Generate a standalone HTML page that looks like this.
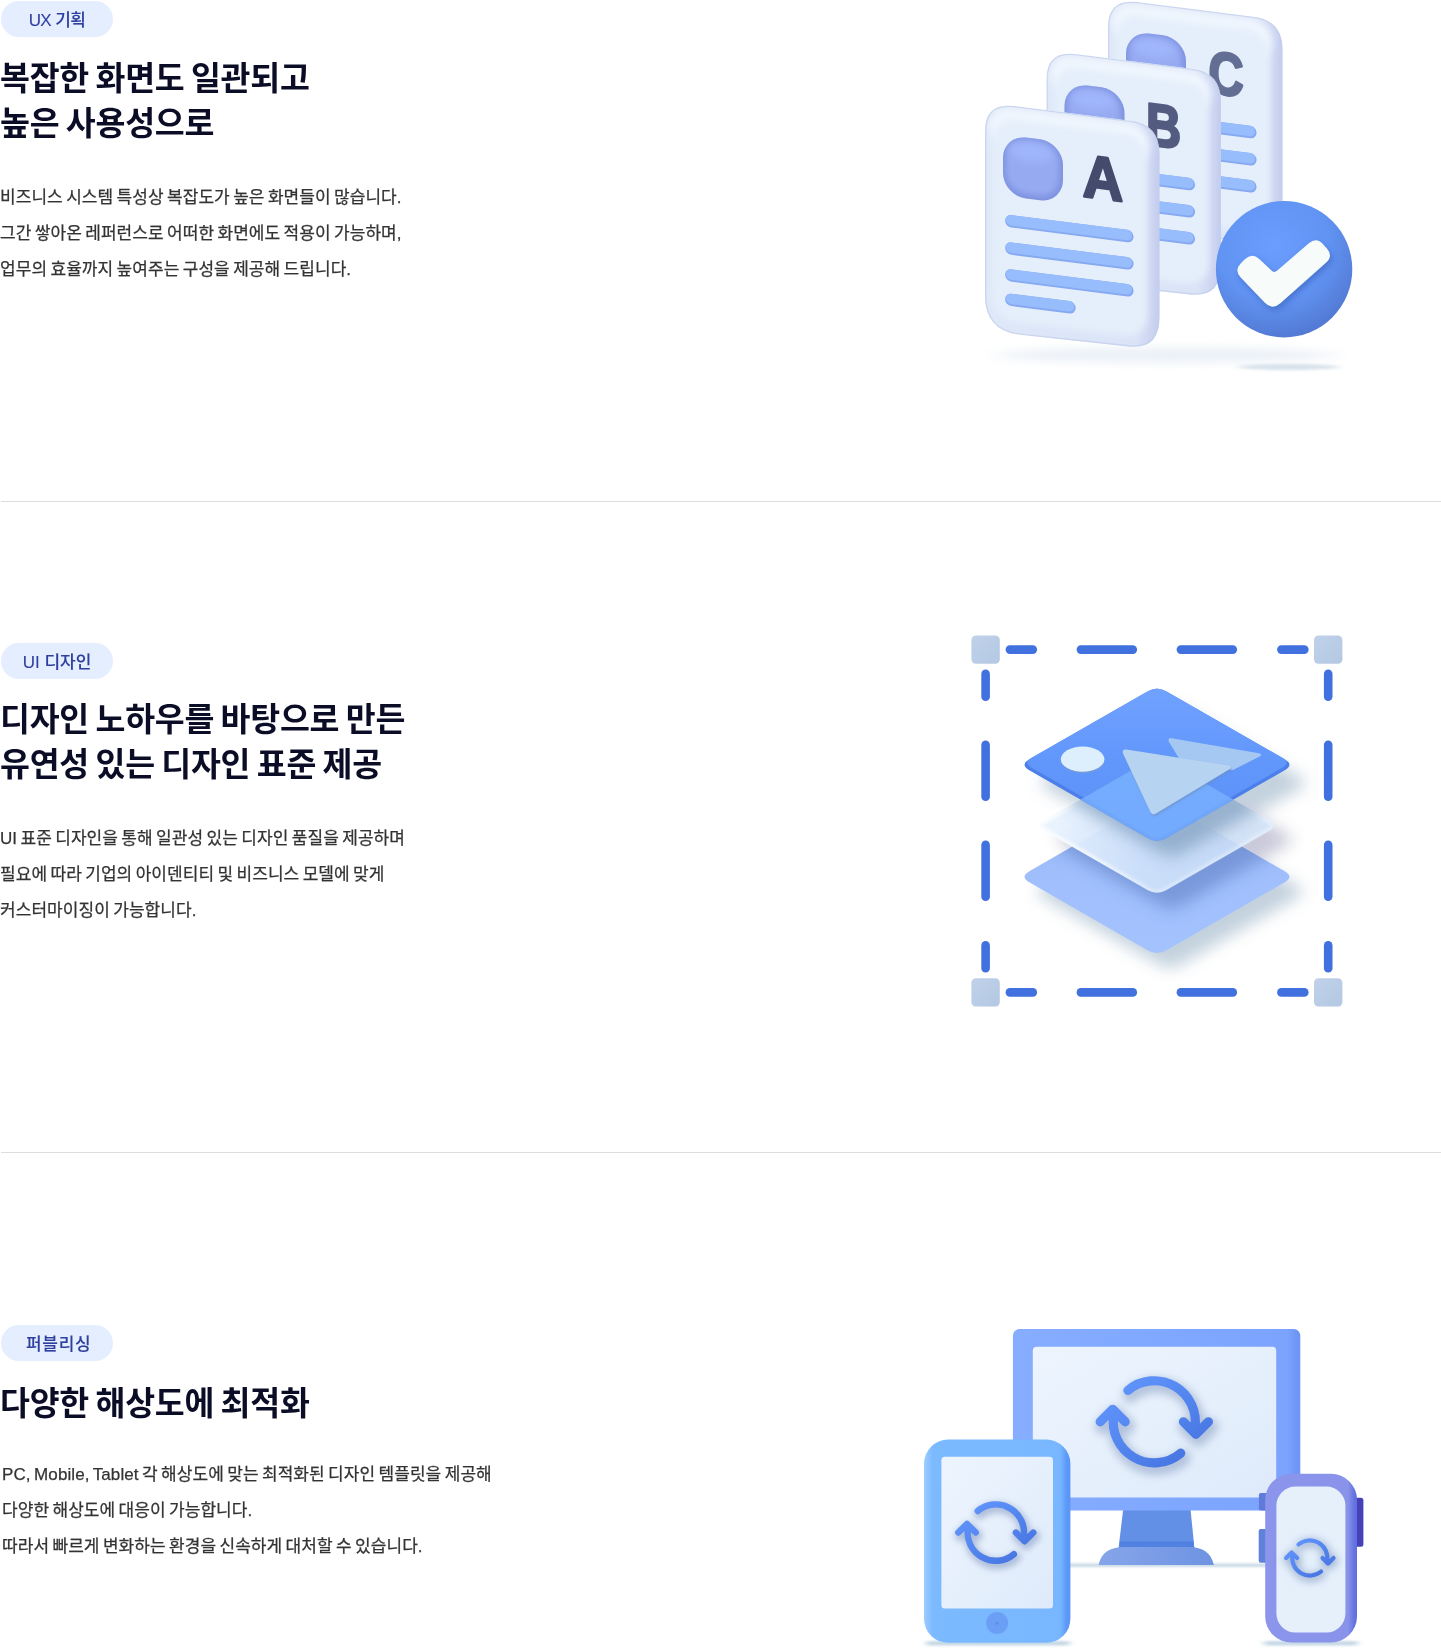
<!DOCTYPE html>
<html lang="ko">
<head>
<meta charset="utf-8">
<title>UX 기획 · UI 디자인 · 퍼블리싱</title>
<style>
*{box-sizing:border-box;margin:0;padding:0}
html,body{width:1441px;height:1651px;background:#fff;overflow:hidden}
body{position:relative;font-family:"Liberation Sans","Noto Sans CJK KR",sans-serif;color:#0b0c26}
.line{position:absolute;left:1px;width:1440px;height:1px;background:#ddd}
.tag{position:absolute;left:1px;width:112px;height:36px;border-radius:18px;background:#e4eeff;color:#2f3f9f;font-size:17px;line-height:39px;font-weight:500;text-align:center;letter-spacing:0;white-space:nowrap;-webkit-text-stroke:0.1px #2f3f9f}
h2,p,.tag{will-change:transform}
h2{position:absolute;left:0;font-size:32.5px;line-height:45px;font-weight:700;letter-spacing:-0.25px;word-spacing:-2.25px;color:#0b0c26;white-space:nowrap}
p{position:absolute;left:0;font-size:17px;line-height:36px;letter-spacing:0.05px;word-spacing:-1.4px;color:#333;white-space:nowrap;-webkit-text-stroke:0.25px #333}
svg.art{position:absolute;left:0;top:0;width:1441px;height:1651px;overflow:hidden}
svg.art text{font-family:"Liberation Sans","DejaVu Sans",sans-serif;font-weight:700}
</style>
</head>
<body>
<main>
<section>
<div class="tag" style="top:1px;letter-spacing:-0.6px">UX 기획</div>
<h2 style="top:57px">복잡한 화면도 일관되고<br>높은 사용성으로</h2>
<p style="top:180px">비즈니스 시스템 특성상 복잡도가 높은 화면들이 많습니다.<br>그간 쌓아온 레퍼런스로 어떠한 화면에도 적용이 가능하며,<br>업무의 효율까지 높여주는 구성을 제공해 드립니다.</p>
<div class="line" style="top:501px"></div>
</section>
<section>
<div class="tag" style="top:643px">UI 디자인</div>
<h2 style="top:697.5px">디자인 노하우를 바탕으로 만든<br>유연성 있는 디자인 표준 제공</h2>
<p style="top:821px">UI 표준 디자인을 통해 일관성 있는 디자인 품질을 제공하며<br>필요에 따라 기업의 아이덴티티 및 비즈니스 모델에 맞게<br>커스터마이징이 가능합니다.</p>
<div class="line" style="top:1152px"></div>
</section>
<section>
<div class="tag" style="top:1325px;letter-spacing:0.7px;text-indent:3.4px">퍼블리싱</div>
<h2 style="top:1382px">다양한 해상도에 최적화</h2>
<p style="top:1457px;left:2px"><span style="letter-spacing:0.1px">PC, Mobile, Tablet</span> 각 해상도에 맞는 최적화된 디자인 템플릿을 제공해<br>다양한 해상도에 대응이 가능합니다.<br>따라서 빠르게 변화하는 환경을 신속하게 대처할 수 있습니다.</p>
</section>
</main>
<svg class="art" viewBox="0 0 1441 1651" width="1441" height="1651">
<defs>
<clipPath id="sqc"><rect x="18" y="30" width="60" height="61" rx="23"/></clipPath>
<linearGradient id="docEdge" x1="0" y1="0" x2="1" y2="0"><stop offset="0" stop-color="#dfe8f8"/><stop offset="0.86" stop-color="#dbe4f7"/><stop offset="0.965" stop-color="#cad3f0"/><stop offset="1" stop-color="#c3cced"/></linearGradient>
<linearGradient id="sq" x1="0" y1="0" x2="0.3" y2="1"><stop offset="0" stop-color="#9db3f9"/><stop offset="0.35" stop-color="#96a9f0"/><stop offset="1" stop-color="#91a1ea"/></linearGradient>
<linearGradient id="ln" gradientUnits="userSpaceOnUse" x1="0" y1="0" x2="0" y2="12.4" spreadMethod="repeat"><stop offset="0" stop-color="#96bcfc"/><stop offset="1" stop-color="#96bcfc"/></linearGradient>
<radialGradient id="ck" cx="0.42" cy="0.32" r="0.75"><stop offset="0" stop-color="#6a9dfd"/><stop offset="0.55" stop-color="#6193f3"/><stop offset="1" stop-color="#4f74cc"/></radialGradient>
<filter id="b1" x="-20%" y="-20%" width="140%" height="140%"><feGaussianBlur stdDeviation="0.8"/></filter>
<filter id="b2" x="-20%" y="-20%" width="140%" height="140%"><feGaussianBlur stdDeviation="2"/></filter>
<filter id="b3" x="-50%" y="-50%" width="200%" height="200%"><feGaussianBlur stdDeviation="3"/></filter>
<filter id="b4" x="-60%" y="-60%" width="220%" height="220%"><feGaussianBlur stdDeviation="4"/></filter>
<filter id="b6" x="-30%" y="-30%" width="160%" height="160%"><feGaussianBlur stdDeviation="6"/></filter>
<filter id="b8" x="-40%" y="-40%" width="180%" height="180%"><feGaussianBlur stdDeviation="8"/></filter>
<filter id="b12" x="-50%" y="-50%" width="200%" height="200%"><feGaussianBlur stdDeviation="12"/></filter>
<filter id="bs" x="-20%" y="-300%" width="140%" height="700%"><feGaussianBlur stdDeviation="3 1.2"/></filter>
<filter id="bs2" x="-30%" y="-300%" width="160%" height="700%"><feGaussianBlur stdDeviation="5 1.6"/></filter>
<filter id="bw" x="-20%" y="-300%" width="140%" height="700%"><feGaussianBlur stdDeviation="14 4"/></filter>
<clipPath id="dc3"><path d="M29 0 L145.4 0 Q174.4 0 174.4 29 L174.4 193.2 Q174.4 226.2 141.4 225.89999999999998 L35 228 Q0 228 0 193 L0 29 Q0 0 29 0 Z"/></clipPath>
<clipPath id="dc2"><path d="M29 0 L145.4 0 Q174.4 0 174.4 29 L174.4 193.2 Q174.4 226.2 141.4 225.89999999999998 L35 228 Q0 228 0 193 L0 29 Q0 0 29 0 Z"/></clipPath>
<clipPath id="dc1"><path d="M29 0 L145.4 0 Q174.4 0 174.4 29 L174.4 193.2 Q174.4 226.2 141.4 225.89999999999998 L35 228 Q0 228 0 193 L0 29 Q0 0 29 0 Z"/></clipPath>
<linearGradient id="hd" x1="0" y1="0" x2="1" y2="1"><stop offset="0" stop-color="#c0d2ea"/><stop offset="1" stop-color="#b4c8e2"/></linearGradient>
<clipPath id="cBot"><path d="M1147.5 803.3 Q1157.0 797.8 1166.5 803.3 L1284.7 871.3 Q1294.2 876.8 1284.7 882.3 L1166.5 950.3 Q1157.0 955.8 1147.5 950.3 L1029.3 882.3 Q1019.8 876.8 1029.3 871.3 Z"/></clipPath><clipPath id="cMid"><path d="M1147.5 761.1 Q1157.0 755.6 1166.5 761.1 L1269.1 820.1 Q1278.6 825.6 1269.1 831.1 L1166.5 890.1 Q1157.0 895.6 1147.5 890.1 L1044.9 831.1 Q1035.4 825.6 1044.9 820.1 Z"/></clipPath><clipPath id="cTop"><path d="M1147.5 691.5 Q1157.0 686.0 1166.5 691.5 L1284.7 759.3 Q1294.2 764.8 1284.7 770.3 L1166.5 838.1 Q1157.0 843.6 1147.5 838.1 L1029.3 770.3 Q1019.8 764.8 1029.3 759.3 Z"/></clipPath>
<linearGradient id="gTop" x1="0" y1="0" x2="0" y2="1"><stop offset="0" stop-color="#70a2ff"/><stop offset="0.5" stop-color="#6196fb"/><stop offset="1" stop-color="#5c90f6"/></linearGradient>
<linearGradient id="gBot" x1="0" y1="0" x2="0" y2="1"><stop offset="0" stop-color="#9ab8f6"/><stop offset="0.55" stop-color="#a0bffc"/><stop offset="1" stop-color="#a3c2fe"/></linearGradient>
<linearGradient id="gRim" gradientUnits="userSpaceOnUse" x1="1035" y1="0" x2="1280" y2="0"><stop offset="0" stop-color="#fff" stop-opacity="0.75"/><stop offset="0.5" stop-color="#fff" stop-opacity="0.25"/><stop offset="1" stop-color="#fff" stop-opacity="0.3"/></linearGradient>
<linearGradient id="gMid" x1="0" y1="0" x2="1" y2="0"><stop offset="0" stop-color="#eaf4fe" stop-opacity="0.95"/><stop offset="0.45" stop-color="#d3e6fd" stop-opacity="0.9"/><stop offset="1" stop-color="#d6e8fc" stop-opacity="0.8"/></linearGradient>
<linearGradient id="gMon" x1="0" y1="0" x2="1" y2="0"><stop offset="0" stop-color="#86adff"/><stop offset="0.5" stop-color="#80a8ff"/><stop offset="0.955" stop-color="#7ca4fe"/><stop offset="0.985" stop-color="#6e97f5"/><stop offset="1" stop-color="#6c95f4"/></linearGradient>
<linearGradient id="gScr" x1="0" y1="0" x2="1" y2="1"><stop offset="0" stop-color="#edf4fe"/><stop offset="0.5" stop-color="#e6f0fc"/><stop offset="1" stop-color="#deeafb"/></linearGradient>
<linearGradient id="gTab" x1="0" y1="0" x2="1" y2="0"><stop offset="0" stop-color="#9dccff"/><stop offset="0.06" stop-color="#7cbaff"/><stop offset="0.93" stop-color="#78b7ff"/><stop offset="0.975" stop-color="#5b98f8"/><stop offset="1" stop-color="#5a96f6"/></linearGradient>
<linearGradient id="gWat" x1="0" y1="0" x2="1" y2="0"><stop offset="0" stop-color="#8c95ec"/><stop offset="0.9" stop-color="#8a93ea"/><stop offset="0.97" stop-color="#6473df"/><stop offset="1" stop-color="#5f6edc"/></linearGradient>
<linearGradient id="gIc" x1="0" y1="0" x2="1" y2="1"><stop offset="0" stop-color="#6399ff"/><stop offset="1" stop-color="#4471de"/></linearGradient>
<linearGradient id="gBase" x1="0" y1="0" x2="1" y2="0"><stop offset="0" stop-color="#86a5ea"/><stop offset="1" stop-color="#6f93e2"/></linearGradient>
</defs>
<ellipse cx="1165" cy="355" rx="170" ry="8" fill="#ecf1f7" filter="url(#bw)"/>
<ellipse cx="1289" cy="367" rx="50" ry="3" fill="#d6e1ea" filter="url(#bs2)"/>
<g transform="translate(1108,-1.6) skewY(7.2)">
<path d="M29 0 L145.4 0 Q174.4 0 174.4 29 L174.4 193.2 Q174.4 226.2 141.4 225.89999999999998 L35 228 Q0 228 0 193 L0 29 Q0 0 29 0 Z" fill="url(#docEdge)"/>
<g clip-path="url(#dc3)">
<rect x="4" y="2" width="160.4" height="40" rx="24" fill="#f1f7fe" filter="url(#b4)"/>
<rect x="8" y="13" width="154.4" height="202" rx="22" fill="#e5effb" filter="url(#b3)"/>
<rect x="18" y="30" width="60" height="61" rx="23" fill="#7d90de"/>
<g clip-path="url(#sqc)"><rect x="20.5" y="32" width="54" height="54.5" rx="20" fill="#96aaf2" filter="url(#b3)"/><ellipse cx="46" cy="44" rx="22" ry="9" fill="#a0b6fb" filter="url(#b4)"/></g>
<line x1="26.3" y1="115.6" x2="142.4" y2="115.6" stroke="#86a9f1" stroke-width="12.4" stroke-linecap="round"/>
<line x1="26.0" y1="114.69999999999999" x2="141.8" y2="114.69999999999999" stroke="#97bdfd" stroke-width="10.4" stroke-linecap="round"/>
<line x1="26.3" y1="142.9" x2="142.4" y2="142.9" stroke="#86a9f1" stroke-width="12.4" stroke-linecap="round"/>
<line x1="26.0" y1="142.0" x2="141.8" y2="142.0" stroke="#97bdfd" stroke-width="10.4" stroke-linecap="round"/>
<line x1="26.3" y1="169.8" x2="142.4" y2="169.8" stroke="#86a9f1" stroke-width="12.4" stroke-linecap="round"/>
<line x1="26.0" y1="168.9" x2="141.8" y2="168.9" stroke="#97bdfd" stroke-width="10.4" stroke-linecap="round"/>
<line x1="26.3" y1="194.2" x2="84.5" y2="194.2" stroke="#86a9f1" stroke-width="12.4" stroke-linecap="round"/>
<line x1="26.0" y1="193.29999999999998" x2="83.9" y2="193.29999999999998" stroke="#97bdfd" stroke-width="10.4" stroke-linecap="round"/>
<text transform="translate(118,81.5) scale(0.81,1)" x="0" y="0" font-size="60" text-anchor="middle" fill="#636e94" stroke="#636e94" stroke-width="2.6" stroke-linejoin="round">C</text>
<path d="M29 0 L145.4 0 Q174.4 0 174.4 29 L174.4 193.2 Q174.4 226.2 141.4 225.89999999999998 L35 228 Q0 228 0 193 L0 29 Q0 0 29 0 Z" fill="none" stroke="#c3cfeb" stroke-opacity="0.75" stroke-width="2.6"/>
</g></g>
<g transform="translate(1046.5,50.4) skewY(7.2)">
<path d="M29 0 L145.4 0 Q174.4 0 174.4 29 L174.4 193.2 Q174.4 226.2 141.4 225.89999999999998 L35 228 Q0 228 0 193 L0 29 Q0 0 29 0 Z" fill="url(#docEdge)"/>
<g clip-path="url(#dc2)">
<rect x="4" y="2" width="160.4" height="40" rx="24" fill="#f1f7fe" filter="url(#b4)"/>
<rect x="8" y="13" width="154.4" height="202" rx="22" fill="#e5effb" filter="url(#b3)"/>
<rect x="18" y="30" width="60" height="61" rx="23" fill="#7d90de"/>
<g clip-path="url(#sqc)"><rect x="20.5" y="32" width="54" height="54.5" rx="20" fill="#96aaf2" filter="url(#b3)"/><ellipse cx="46" cy="44" rx="22" ry="9" fill="#a0b6fb" filter="url(#b4)"/></g>
<line x1="26.3" y1="115.6" x2="142.4" y2="115.6" stroke="#86a9f1" stroke-width="12.4" stroke-linecap="round"/>
<line x1="26.0" y1="114.69999999999999" x2="141.8" y2="114.69999999999999" stroke="#97bdfd" stroke-width="10.4" stroke-linecap="round"/>
<line x1="26.3" y1="142.9" x2="142.4" y2="142.9" stroke="#86a9f1" stroke-width="12.4" stroke-linecap="round"/>
<line x1="26.0" y1="142.0" x2="141.8" y2="142.0" stroke="#97bdfd" stroke-width="10.4" stroke-linecap="round"/>
<line x1="26.3" y1="169.8" x2="142.4" y2="169.8" stroke="#86a9f1" stroke-width="12.4" stroke-linecap="round"/>
<line x1="26.0" y1="168.9" x2="141.8" y2="168.9" stroke="#97bdfd" stroke-width="10.4" stroke-linecap="round"/>
<line x1="26.3" y1="194.2" x2="84.5" y2="194.2" stroke="#86a9f1" stroke-width="12.4" stroke-linecap="round"/>
<line x1="26.0" y1="193.29999999999998" x2="83.9" y2="193.29999999999998" stroke="#97bdfd" stroke-width="10.4" stroke-linecap="round"/>
<text transform="translate(117,81.5) scale(0.81,1)" x="0" y="0" font-size="60" text-anchor="middle" fill="#535c80" stroke="#535c80" stroke-width="2.6" stroke-linejoin="round">B</text>
<path d="M29 0 L145.4 0 Q174.4 0 174.4 29 L174.4 193.2 Q174.4 226.2 141.4 225.89999999999998 L35 228 Q0 228 0 193 L0 29 Q0 0 29 0 Z" fill="none" stroke="#c3cfeb" stroke-opacity="0.75" stroke-width="2.6"/>
</g></g>
<g transform="translate(985,102.4) skewY(7.2)">
<path d="M29 0 L145.4 0 Q174.4 0 174.4 29 L174.4 193.2 Q174.4 226.2 141.4 225.89999999999998 L35 228 Q0 228 0 193 L0 29 Q0 0 29 0 Z" fill="url(#docEdge)"/>
<g clip-path="url(#dc1)">
<rect x="4" y="2" width="160.4" height="40" rx="24" fill="#f1f7fe" filter="url(#b4)"/>
<rect x="8" y="13" width="154.4" height="202" rx="22" fill="#e5effb" filter="url(#b3)"/>
<rect x="18" y="30" width="60" height="61" rx="23" fill="#7d90de"/>
<g clip-path="url(#sqc)"><rect x="20.5" y="32" width="54" height="54.5" rx="20" fill="#96aaf2" filter="url(#b3)"/><ellipse cx="46" cy="44" rx="22" ry="9" fill="#a0b6fb" filter="url(#b4)"/></g>
<line x1="26.3" y1="115.6" x2="142.4" y2="115.6" stroke="#86a9f1" stroke-width="12.4" stroke-linecap="round"/>
<line x1="26.0" y1="114.69999999999999" x2="141.8" y2="114.69999999999999" stroke="#97bdfd" stroke-width="10.4" stroke-linecap="round"/>
<line x1="26.3" y1="142.9" x2="142.4" y2="142.9" stroke="#86a9f1" stroke-width="12.4" stroke-linecap="round"/>
<line x1="26.0" y1="142.0" x2="141.8" y2="142.0" stroke="#97bdfd" stroke-width="10.4" stroke-linecap="round"/>
<line x1="26.3" y1="169.8" x2="142.4" y2="169.8" stroke="#86a9f1" stroke-width="12.4" stroke-linecap="round"/>
<line x1="26.0" y1="168.9" x2="141.8" y2="168.9" stroke="#97bdfd" stroke-width="10.4" stroke-linecap="round"/>
<line x1="26.3" y1="194.2" x2="84.5" y2="194.2" stroke="#86a9f1" stroke-width="12.4" stroke-linecap="round"/>
<line x1="26.0" y1="193.29999999999998" x2="83.9" y2="193.29999999999998" stroke="#97bdfd" stroke-width="10.4" stroke-linecap="round"/>
<text transform="translate(118,81.5) scale(0.93,1)" x="0" y="0" font-size="60" text-anchor="middle" fill="#444b6c" stroke="#444b6c" stroke-width="2.6" stroke-linejoin="round">A</text>
<path d="M29 0 L145.4 0 Q174.4 0 174.4 29 L174.4 193.2 Q174.4 226.2 141.4 225.89999999999998 L35 228 Q0 228 0 193 L0 29 Q0 0 29 0 Z" fill="none" stroke="#c3cfeb" stroke-opacity="0.75" stroke-width="2.6"/>
</g></g>
<circle cx="1284.1" cy="269.2" r="68.2" fill="url(#ck)"/>
<path d="M1244.9 259.3 Q1252.0 252.3 1259.3 259.1 L1271.8 270.7 Q1274.4 273.1 1277.0 270.8 L1308.9 243.2 Q1316.5 236.7 1323.1 244.2 L1326.9 248.6 Q1333.5 256.1 1326.0 262.7 L1280.4 303.3 Q1272.2 310.6 1264.6 302.6 L1240.7 277.4 Q1233.8 270.2 1240.9 263.2 Z" fill="#3a5fb8" opacity="0.6" transform="translate(2,3.5)" filter="url(#b3)"/>
<path d="M1244.9 259.3 Q1252.0 252.3 1259.3 259.1 L1271.8 270.7 Q1274.4 273.1 1277.0 270.8 L1308.9 243.2 Q1316.5 236.7 1323.1 244.2 L1326.9 248.6 Q1333.5 256.1 1326.0 262.7 L1280.4 303.3 Q1272.2 310.6 1264.6 302.6 L1240.7 277.4 Q1233.8 270.2 1240.9 263.2 Z" fill="#f7fcfb"/>
<line x1="1009.9" y1="649.6" x2="1032.8" y2="649.6" stroke="#4071de" stroke-width="8.6" stroke-linecap="round"/>
<line x1="1009.9" y1="992.4" x2="1032.8" y2="992.4" stroke="#4071de" stroke-width="8.6" stroke-linecap="round"/>
<line x1="985.6" y1="673.9" x2="985.6" y2="696.8" stroke="#4071de" stroke-width="8.6" stroke-linecap="round"/>
<line x1="1328.2" y1="673.9" x2="1328.2" y2="696.8" stroke="#4071de" stroke-width="8.6" stroke-linecap="round"/>
<line x1="1080.9" y1="649.6" x2="1132.8" y2="649.6" stroke="#4071de" stroke-width="8.6" stroke-linecap="round"/>
<line x1="1080.9" y1="992.4" x2="1132.8" y2="992.4" stroke="#4071de" stroke-width="8.6" stroke-linecap="round"/>
<line x1="985.6" y1="744.9" x2="985.6" y2="796.8" stroke="#4071de" stroke-width="8.6" stroke-linecap="round"/>
<line x1="1328.2" y1="744.9" x2="1328.2" y2="796.8" stroke="#4071de" stroke-width="8.6" stroke-linecap="round"/>
<line x1="1180.9" y1="649.6" x2="1232.8" y2="649.6" stroke="#4071de" stroke-width="8.6" stroke-linecap="round"/>
<line x1="1180.9" y1="992.4" x2="1232.8" y2="992.4" stroke="#4071de" stroke-width="8.6" stroke-linecap="round"/>
<line x1="985.6" y1="844.9" x2="985.6" y2="896.8" stroke="#4071de" stroke-width="8.6" stroke-linecap="round"/>
<line x1="1328.2" y1="844.9" x2="1328.2" y2="896.8" stroke="#4071de" stroke-width="8.6" stroke-linecap="round"/>
<line x1="1281.4" y1="649.6" x2="1304.3" y2="649.6" stroke="#4071de" stroke-width="8.6" stroke-linecap="round"/>
<line x1="1281.4" y1="992.4" x2="1304.3" y2="992.4" stroke="#4071de" stroke-width="8.6" stroke-linecap="round"/>
<line x1="985.6" y1="945.4" x2="985.6" y2="968.3" stroke="#4071de" stroke-width="8.6" stroke-linecap="round"/>
<line x1="1328.2" y1="945.4" x2="1328.2" y2="968.3" stroke="#4071de" stroke-width="8.6" stroke-linecap="round"/>
<rect x="971.4" y="635.4" width="28.4" height="28.4" rx="4.5" fill="url(#hd)" />
<rect x="971.4" y="978.1999999999999" width="28.4" height="28.4" rx="4.5" fill="url(#hd)" />
<rect x="1314.0" y="635.4" width="28.4" height="28.4" rx="4.5" fill="url(#hd)" />
<rect x="1314.0" y="978.1999999999999" width="28.4" height="28.4" rx="4.5" fill="url(#hd)" />
<g opacity="0.62" filter="url(#b8)"><path d="M1147.5 803.3 Q1157.0 797.8 1166.5 803.3 L1284.7 871.3 Q1294.2 876.8 1284.7 882.3 L1166.5 950.3 Q1157.0 955.8 1147.5 950.3 L1029.3 882.3 Q1019.8 876.8 1029.3 871.3 Z" fill="#9fb6c9" transform="translate(13,15)"/><path d="M1147.5 691.5 Q1157.0 686.0 1166.5 691.5 L1284.7 759.3 Q1294.2 764.8 1284.7 770.3 L1166.5 838.1 Q1157.0 843.6 1147.5 838.1 L1029.3 770.3 Q1019.8 764.8 1029.3 759.3 Z" fill="#9fb6c9" transform="translate(16,18)"/><path d="M1147.5 761.1 Q1157.0 755.6 1166.5 761.1 L1269.1 820.1 Q1278.6 825.6 1269.1 831.1 L1166.5 890.1 Q1157.0 895.6 1147.5 890.1 L1044.9 831.1 Q1035.4 825.6 1044.9 820.1 Z" fill="#a9a9c4" transform="translate(18,14)"/></g>
<path d="M1147.5 803.3 Q1157.0 797.8 1166.5 803.3 L1284.7 871.3 Q1294.2 876.8 1284.7 882.3 L1166.5 950.3 Q1157.0 955.8 1147.5 950.3 L1029.3 882.3 Q1019.8 876.8 1029.3 871.3 Z" fill="url(#gBot)"/>
<g clip-path="url(#cBot)"><path d="M1147.5 761.1 Q1157.0 755.6 1166.5 761.1 L1269.1 820.1 Q1278.6 825.6 1269.1 831.1 L1166.5 890.1 Q1157.0 895.6 1147.5 890.1 L1044.9 831.1 Q1035.4 825.6 1044.9 820.1 Z" fill="#5f7fc4" opacity="0.6" transform="translate(14,16)" filter="url(#b8)"/></g>
<path d="M1147.5 761.1 Q1157.0 755.6 1166.5 761.1 L1269.1 820.1 Q1278.6 825.6 1269.1 831.1 L1166.5 890.1 Q1157.0 895.6 1147.5 890.1 L1044.9 831.1 Q1035.4 825.6 1044.9 820.1 Z" fill="url(#gMid)"/>
<g clip-path="url(#cMid)"><path d="M1147.5 761.1 Q1157.0 755.6 1166.5 761.1 L1269.1 820.1 Q1278.6 825.6 1269.1 831.1 L1166.5 890.1 Q1157.0 895.6 1147.5 890.1 L1044.9 831.1 Q1035.4 825.6 1044.9 820.1 Z" fill="none" stroke="url(#gRim)" stroke-width="7" filter="url(#b1)"/></g>
<g clip-path="url(#cMid)"><path d="M1147.5 691.5 Q1157.0 686.0 1166.5 691.5 L1284.7 759.3 Q1294.2 764.8 1284.7 770.3 L1166.5 838.1 Q1157.0 843.6 1147.5 838.1 L1029.3 770.3 Q1019.8 764.8 1029.3 759.3 Z" fill="#7f9dbd" opacity="0.7" transform="translate(14,16)" filter="url(#b8)"/></g>
<path d="M1147.5 691.5 Q1157.0 686.0 1166.5 691.5 L1284.7 759.3 Q1294.2 764.8 1284.7 770.3 L1166.5 838.1 Q1157.0 843.6 1147.5 838.1 L1029.3 770.3 Q1019.8 764.8 1029.3 759.3 Z" fill="#4c7fe9"/>
<path d="M1148.3 691.0 Q1157.0 686.0 1165.7 691.0 L1282.3 757.8 Q1291.0 762.8 1282.3 767.8 L1165.7 834.6 Q1157.0 839.6 1148.3 834.6 L1031.7 767.8 Q1023.0 762.8 1031.7 757.8 Z" fill="url(#gTop)"/>
<g clip-path="url(#cTop)"><path d="M1147.5 761.1 Q1157.0 755.6 1166.5 761.1 L1269.1 820.1 Q1278.6 825.6 1269.1 831.1 L1166.5 890.1 Q1157.0 895.6 1147.5 890.1 L1044.9 831.1 Q1035.4 825.6 1044.9 820.1 Z" fill="#79b1ff" opacity="0.8"/></g>
<ellipse cx="1082.8" cy="760.6" rx="21.8" ry="12.6" fill="#7f9cc9" opacity="0.7"/>
<ellipse cx="1082.6" cy="759.2" rx="21.8" ry="12.6" fill="#ddeefd"/>
<path d="M1171.5 738.2 L1259 753.2 Q1263 754.2 1259.5 756.6 L1233 770 L1186 770 L1168.8 741.5 Q1167.6 737.6 1171.5 738.2 Z" fill="#a5c8f3"/>
<path d="M1126.5 749.6 L1228.5 765.6 Q1233.5 766.8 1229 769.6 L1156 813.6 Q1152.4 815.8 1150.4 812 L1123 753.6 Q1121.6 748.8 1126.5 749.6 Z" fill="#6f8fc0" opacity="0.7" transform="translate(0.8,1.4)" filter="url(#b1)"/>
<path d="M1126.5 749.6 L1228.5 765.6 Q1233.5 766.8 1229 769.6 L1156 813.6 Q1152.4 815.8 1150.4 812 L1123 753.6 Q1121.6 748.8 1126.5 749.6 Z" fill="#b6d4f2"/>
<rect x="1060" y="1563.6" width="210" height="3.4" rx="1.7" fill="#c9dae6" filter="url(#bs)"/>
<rect x="926" y="1641" width="144" height="4.4" rx="2" fill="#c6d8e5" filter="url(#bs)"/>
<rect x="1264" y="1641" width="94" height="4.4" rx="2" fill="#c6d8e5" filter="url(#bs)"/>
<path d="M1123.2 1509 L1190.5 1509 L1194.4 1548 L1118.6 1548 Z" fill="#6290e6"/>
<rect x="1119.6" y="1541.4" width="74" height="6" fill="#4f7ee0" opacity="0.8"/>
<path d="M1098.6 1565 Q1102 1547 1124 1547 L1189 1547 Q1210 1547 1213.8 1565 Z" fill="url(#gBase)"/>
<rect x="1012.9" y="1329" width="287.4" height="181.4" rx="6.5" fill="url(#gMon)" />
<rect x="1032.8" y="1346.8" width="243.4" height="150.8" rx="4" fill="url(#gScr)" />
<path d="M1127.9 1390.4 A41 41 0 0 1 1194.7 1428.9 M1180.7 1453.2 A41 41 0 0 1 1113.9 1414.7 M1183.4 1421.8 L1195.9 1434.3 L1208.4 1421.8 M1100.2 1421.8 L1112.7 1409.3 L1125.2 1421.8" fill="none" stroke="#8296bd" stroke-opacity="0.5" stroke-width="15.6" stroke-linecap="round" stroke-linejoin="round" transform="translate(2.3,4.6)" filter="url(#b4)"/>
<path d="M1127.9 1390.4 A41 41 0 0 1 1194.7 1428.9 M1180.7 1453.2 A41 41 0 0 1 1113.9 1414.7 M1183.4 1421.8 L1195.9 1434.3 L1208.4 1421.8 M1100.2 1421.8 L1112.7 1409.3 L1125.2 1421.8" fill="none" stroke="url(#gIc)" stroke-width="9.2" stroke-linecap="round" stroke-linejoin="round"/>
<rect x="924" y="1439.6" width="146.4" height="203.2" rx="24" fill="url(#gTab)" />
<rect x="941.4" y="1456.8" width="111.6" height="151.6" rx="3.5" fill="url(#gScr)" />
<circle cx="997.1" cy="1623" r="11" fill="#6b9ff6"/>
<circle cx="997.1" cy="1623.2" r="1.6" fill="#5e8ee8"/>
<path d="M977.7 1511.0 A28.2 28.2 0 0 1 1023.6 1537.5 M1013.9 1554.2 A28.2 28.2 0 0 1 968.0 1527.7 M1015.9 1532.6 L1024.6 1541.3 L1033.3 1532.6 M958.3 1532.6 L967.0 1523.9 L975.7 1532.6" fill="none" stroke="#8296bd" stroke-opacity="0.55" stroke-width="10.9" stroke-linecap="round" stroke-linejoin="round" transform="translate(1.6,3.2)" filter="url(#b3)"/>
<path d="M977.7 1511.0 A28.2 28.2 0 0 1 1023.6 1537.5 M1013.9 1554.2 A28.2 28.2 0 0 1 968.0 1527.7 M1015.9 1532.6 L1024.6 1541.3 L1033.3 1532.6 M958.3 1532.6 L967.0 1523.9 L975.7 1532.6" fill="none" stroke="url(#gIc)" stroke-width="6.4" stroke-linecap="round" stroke-linejoin="round"/>
<rect x="1258.9" y="1493" width="9" height="17.4" rx="2" fill="#5f7ad9" />
<rect x="1258.7" y="1529" width="9" height="33.8" rx="2" fill="#6182da" />
<rect x="1352" y="1497.8" width="11.4" height="49" rx="2.5" fill="#4541b9" />
<rect x="1265.2" y="1473.8" width="91.8" height="168.6" rx="26" fill="url(#gWat)" />
<rect x="1276.4" y="1486.6" width="69" height="146" rx="19" fill="#e5f0fb" />
<path d="M1298.5 1544.5 A17.6 17.6 0 0 1 1327.1 1561.1 M1321.1 1571.5 A17.6 17.6 0 0 1 1292.5 1554.9 M1322.5 1558.0 L1328.0 1563.5 L1333.5 1558.0 M1286.1 1558.0 L1291.6 1552.5 L1297.1 1558.0" fill="none" stroke="#8296bd" stroke-opacity="0.75" stroke-width="7.1" stroke-linecap="round" stroke-linejoin="round" transform="translate(1.1,2.1)" filter="url(#b4)"/>
<path d="M1298.5 1544.5 A17.6 17.6 0 0 1 1327.1 1561.1 M1321.1 1571.5 A17.6 17.6 0 0 1 1292.5 1554.9 M1322.5 1558.0 L1328.0 1563.5 L1333.5 1558.0 M1286.1 1558.0 L1291.6 1552.5 L1297.1 1558.0" fill="none" stroke="url(#gIc)" stroke-width="4.2" stroke-linecap="round" stroke-linejoin="round"/>
</svg>
</body>
</html>
